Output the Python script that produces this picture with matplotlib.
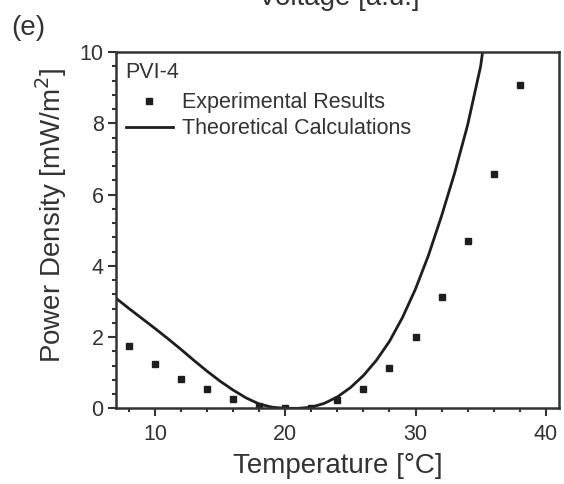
"""Panel (e): PVI-4 power density vs temperature, experiment vs theory."""

import matplotlib
matplotlib.use("Agg")
import matplotlib.pyplot as plt
from matplotlib.ticker import MultipleLocator

plt.rcParams["font.family"] = ["Liberation Sans", "DejaVu Sans"]

# experimental points
temp_exp = [8, 10, 12, 14, 16, 18, 20, 22, 24, 26, 28, 30, 32, 34, 36, 38]
power_exp = [1.75, 1.23, 0.83, 0.54, 0.26, 0.06, 0.0, 0.02, 0.22, 0.53,
             1.14, 1.99, 3.12, 4.69, 6.57, 9.08]

# theoretical curve, traced
temp_theory = [7, 8, 9, 10, 11, 12, 13, 14, 15, 16, 17, 18, 19, 20, 20.5,
               21, 22, 23, 24, 25, 26, 27, 28, 29, 30, 31, 32, 33, 34, 35,
               35.15]
power_theory = [3.09, 2.80, 2.52, 2.24, 1.95, 1.65, 1.34, 1.04, 0.76, 0.51,
                0.29, 0.12, 0.03, 0.0, 0.0,
                0.0, 0.03, 0.14, 0.32, 0.58, 0.92, 1.35, 1.88, 2.55, 3.35,
                4.30, 5.40, 6.60, 7.95, 9.60, 10.0]

fig = plt.figure(figsize=(5.64, 4.84), dpi=100)
ax = fig.add_axes([0.2057, 0.1564, 0.785, 0.736])

ax.plot(temp_exp, power_exp, linestyle="none", marker="s", markersize=5,
        color="#1e1e1e", label="Experimental Results")
ax.plot(temp_theory, power_theory, color="#1e1e1e", linewidth=2.0,
        label="Theoretical Calculations")

ax.set_xlim(7, 41)
ax.set_ylim(0, 10)
ax.xaxis.set_major_locator(MultipleLocator(10))
ax.xaxis.set_minor_locator(MultipleLocator(2))
ax.yaxis.set_major_locator(MultipleLocator(2))
ax.yaxis.set_minor_locator(MultipleLocator(0.4))
ax.tick_params(which="both", direction="out", top=False, right=False,
               width=1.5, color="#333333", labelcolor="#333333")
ax.tick_params(which="major", length=6, labelsize=15.5)
ax.tick_params(axis="x", which="major", pad=5)
ax.tick_params(axis="y", which="major", pad=3)
ax.tick_params(which="minor", length=3)
for s in ax.spines.values():
    s.set_linewidth(1.8)
    s.set_color("#333333")

ax.set_xlabel("Temperature [°C]", fontsize=20, color="#333333", labelpad=6)
ax.set_ylabel("Power Density [mW/m$^2$]", fontsize=20, color="#333333")
ax.yaxis.set_label_coords(-0.106, 0.5425)

leg = ax.legend(loc="upper left", title="PVI-4", frameon=False,
                fontsize=15.5, title_fontsize=15.5, alignment="left",
                handlelength=2.2, handletextpad=0.4, labelspacing=0.22,
                borderaxespad=0.3, borderpad=0.15)
leg._legend_box.sep = 7  # a little more room under the title
for t in leg.get_texts():
    t.set_color("#333333")
leg.get_title().set_color("#333333")

fig.text(0.02, 0.915, "(e)", fontsize=20, color="#333333", va="bottom")
# bottom of the previous panel's x label, cut off by the frame
fig.text(0.60, 1 - 5 / 484, "Voltage [a.u.]", fontsize=20, color="#333333",
         ha="center", va="baseline")

fig.savefig("out.png", dpi=100)
